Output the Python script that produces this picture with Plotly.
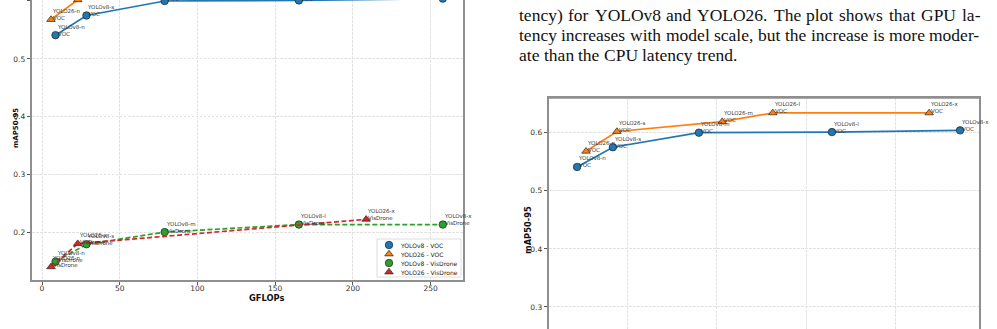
import plotly.graph_objects as go

W, H = 997, 329

# ---------------- data ----------------
SIZES = ["n", "s", "m", "l", "x"]
Y26_VIS_SIZES = ["n", "s", "x"]

V8_GFLOPS = [8.7, 28.6, 78.9, 165.2, 257.8]
Y26_GFLOPS = [5.8, 23.0, 73.5, 93.0, 208.5]
Y26_VIS_GFLOPS = [5.8, 23.0, 208.5]

V8_VOC = [0.541, 0.575, 0.600, 0.601, 0.604]
Y26_VOC = [0.568, 0.602, 0.619, 0.634, 0.634]
V8_VIS = [0.150, 0.180, 0.201, 0.214, 0.214]
Y26_VIS = [0.141, 0.181, 0.223]

V8_GPU_MS = [0.88, 1.68, 3.60, 6.57, 9.43]
Y26_GPU_MS = [1.08, 1.77, 4.12, 5.25, 8.74]

LEFT_XTICKS = [0, 50, 100, 150, 200, 250]
MAP_TICKS = [0.2, 0.3, 0.4, 0.5, 0.6]
RIGHT_XTICKS = [2, 4, 6, 8]

LEGEND_NAMES = ["YOLOv8 - VOC", "YOLO26 - VOC", "YOLOv8 - VisDrone", "YOLO26 - VisDrone"]

BODY_LINES = [
    "tency) for YOLOv8 and YOLO26. The plot shows that GPU la-",
    "tency increases with model scale, but the increase is more moder-",
    "ate than the CPU latency trend.",
]

BLUE, ORANGE, GREEN, RED = "#1f77b4", "#ff7f0e", "#2ca02c", "#d62728"
SPINE = "#8f8f8f"
GRID = "#e2e2e2"
SANS = "DejaVu Sans"
SERIF = "Liberation Serif"


def pxx(x):
    return x / W


def pxy(y):
    return 1 - y / H


fig = go.Figure()


def add_series(x, y, name, color, symbol, dash, xa, ya):
    fig.add_trace(go.Scatter(
        x=x, y=y, mode="lines+markers", name=name,
        line=dict(color=color, width=1.7, dash=dash),
        marker=dict(symbol=symbol, size=7.5, color=color,
                    line=dict(color="#222222", width=0.7)),
        xaxis=xa, yaxis=ya, showlegend=False, cliponaxis=True,
    ))


def add_labels(x, y, sizes, prefix, ds, xa, ya):
    for xv, yv, s in zip(x, y, sizes):
        fig.add_annotation(
            x=xv, y=yv, xref=xa, yref=ya, text=f"{prefix}-{s}<br>{ds}",
            showarrow=False, xanchor="left", yanchor="bottom",
            xshift=-1, yshift=-3.5, align="left",
            font=dict(family=SANS, size=5.5, color="#333333"),
        )


SOLID = "solid"
DASH = "5px,2.5px"

# left chart (GFLOPs)
add_series(V8_GFLOPS, V8_VOC, LEGEND_NAMES[0], BLUE, "circle", SOLID, "x", "y")
add_series(Y26_GFLOPS, Y26_VOC, LEGEND_NAMES[1], ORANGE, "triangle-up", SOLID, "x", "y")
add_series(V8_GFLOPS, V8_VIS, LEGEND_NAMES[2], GREEN, "circle", DASH, "x", "y")
add_series(Y26_VIS_GFLOPS, Y26_VIS, LEGEND_NAMES[3], RED, "triangle-up", DASH, "x", "y")
add_labels(V8_GFLOPS, V8_VOC, SIZES, "YOLOv8", "VOC", "x", "y")
add_labels(Y26_GFLOPS, Y26_VOC, SIZES, "YOLO26", "VOC", "x", "y")
add_labels(V8_GFLOPS, V8_VIS, SIZES, "YOLOv8", "VisDrone", "x", "y")
add_labels(Y26_VIS_GFLOPS, Y26_VIS, Y26_VIS_SIZES, "YOLO26", "VisDrone", "x", "y")

# right chart (GPU latency)
add_series(V8_GPU_MS, V8_VOC, LEGEND_NAMES[0], BLUE, "circle", SOLID, "x2", "y2")
add_series(Y26_GPU_MS, Y26_VOC, LEGEND_NAMES[1], ORANGE, "triangle-up", SOLID, "x2", "y2")
add_labels(V8_GPU_MS, V8_VOC, SIZES, "YOLOv8", "VOC", "x2", "y2")
add_labels(Y26_GPU_MS, Y26_VOC, SIZES, "YOLO26", "VOC", "x2", "y2")

# ---- legend of the left chart (box + glyphs + text) ----
LEG_COLORS = [BLUE, ORANGE, GREEN, RED]
LEG_SYMBOLS = ["circle", "triangle", "circle", "triangle"]
LEG_ROWS = [245, 254, 263, 272]
LEG_MX, LEG_TX = 389, 398
fig.add_shape(type="rect", xref="paper", yref="paper",
              x0=pxx(377), x1=pxx(461), y0=pxy(277), y1=pxy(239),
              fillcolor="white", line=dict(color="#d4d4d4", width=0.8), layer="above")
for col, sym, yy in zip(LEG_COLORS, LEG_SYMBOLS, LEG_ROWS):
    if sym == "circle":
        r = 3.75
        fig.add_shape(type="circle", xref="paper", yref="paper",
                      x0=pxx(LEG_MX - r), x1=pxx(LEG_MX + r), y0=pxy(yy + r), y1=pxy(yy - r),
                      fillcolor=col, line=dict(color="#222222", width=0.7), layer="above")
    else:
        r, rt = 3.75, 4.33
        pts = [(LEG_MX - rt, yy + r / 2), (LEG_MX + rt, yy + r / 2), (LEG_MX, yy - r)]
        path = "M " + " L ".join(f"{pxx(a):.5f},{pxy(b):.5f}" for a, b in pts) + " Z"
        fig.add_shape(type="path", xref="paper", yref="paper", path=path,
                      fillcolor=col, line=dict(color="#222222", width=0.7), layer="above")
for name, yy in zip(LEGEND_NAMES, LEG_ROWS):
    fig.add_annotation(x=pxx(LEG_TX), y=pxy(yy), xref="paper", yref="paper",
                       text=name, showarrow=False, xanchor="left", yanchor="middle",
                       font=dict(family=SANS, size=6, color="#222222"))

# right chart top spine
fig.add_shape(type="line", xref="x2 domain", yref="y2 domain", x0=0, x1=1, y0=1, y1=1,
              line=dict(color=SPINE, width=1.5), layer="above")

# axis titles
fig.add_annotation(x=pxx(247), y=pxy(298), xref="paper", yref="paper", text="<b>GFLOPs</b>",
                   showarrow=False, yanchor="middle",
                   font=dict(family=SANS, size=8.3, color="#111111"))
fig.add_annotation(x=pxx(10), y=pxy(128), xref="paper", yref="paper", text="<b>mAP50-95</b>",
                   textangle=-90, showarrow=False, font=dict(family=SANS, size=7, color="#111111"))
fig.add_annotation(x=pxx(528), y=pxy(256), xref="paper", yref="paper", text="<b>mAP50-95</b>",
                   textangle=-90, showarrow=False, font=dict(family=SANS, size=8.3, color="#111111"))

# body text (justified, Times metrics)
TIMES = {
    " ": 250, "a": 444, "b": 500, "c": 444, "d": 500, "e": 444, "f": 333, "g": 500, "h": 500,
    "i": 278, "j": 278, "k": 500, "l": 278, "m": 778, "n": 500, "o": 500, "p": 500, "q": 500,
    "r": 333, "s": 389, "t": 278, "u": 500, "v": 500, "w": 722, "x": 500, "y": 500, "z": 444,
    "A": 722, "C": 667, "G": 722, "L": 611, "O": 722, "P": 556, "T": 611, "U": 722, "Y": 722,
    "0": 500, "1": 500, "2": 500, "6": 500, "8": 500, ".": 250, ",": 250, "-": 333, ")": 333, "(": 333,
}
FS = 17.5
X0, X1 = 519, 980
LINE_Y = [15, 35, 55]


def tw(s):
    return sum(TIMES.get(c, 500) for c in s) / 1000 * FS


for i, (line, ly) in enumerate(zip(BODY_LINES, LINE_Y)):
    words = line.split(" ")
    wsum = sum(tw(w) for w in words)
    if i < len(BODY_LINES) - 1:
        gap = (X1 - X0 - wsum) / (len(words) - 1)
    else:
        gap = tw(" ")
    cx = X0
    for w in words:
        fig.add_annotation(x=pxx(cx - 2), y=pxy(ly), xref="paper", yref="paper", text=w,
                           showarrow=False, xanchor="left", yanchor="middle",
                           font=dict(family=SERIF, size=FS, color="#111111"))
        cx += tw(w) + gap

axis_common = dict(showgrid=True, gridcolor=GRID, gridwidth=0.8, griddash="2.5px,1.5px",
                   zeroline=False, linecolor=SPINE, linewidth=1.5, showline=True,
                   tickfont=dict(family=SANS, size=7.5, color="#333333"),
                   ticks="outside", ticklen=3.5, tickwidth=0.8, tickcolor="#555555")

fig.update_layout(
    width=W, height=H, margin=dict(l=0, r=0, t=0, b=0),
    paper_bgcolor="white", plot_bgcolor="white", showlegend=False,
    xaxis=dict(axis_common, domain=[pxx(32), pxx(463)], range=[-6.43, 270.8],
               tickvals=LEFT_XTICKS, anchor="y", ticklabelstandoff=-3),
    yaxis=dict(axis_common, domain=[pxy(280), 1], range=[0.1183, 0.6017],
               tickvals=MAP_TICKS, tickformat=".1f", mirror=True, anchor="x"),
    xaxis2=dict(axis_common, domain=[pxx(549), pxx(979)], range=[0.254, 9.853],
                tickvals=RIGHT_XTICKS, side="top", ticks="", showticklabels=False, anchor="y2"),
    yaxis2=dict(axis_common, domain=[0, pxy(98)], range=[0.2621, 0.6597],
                tickvals=MAP_TICKS, tickformat=".1f", mirror=True, anchor="x2"),
)

fig.write_html("out.html")
